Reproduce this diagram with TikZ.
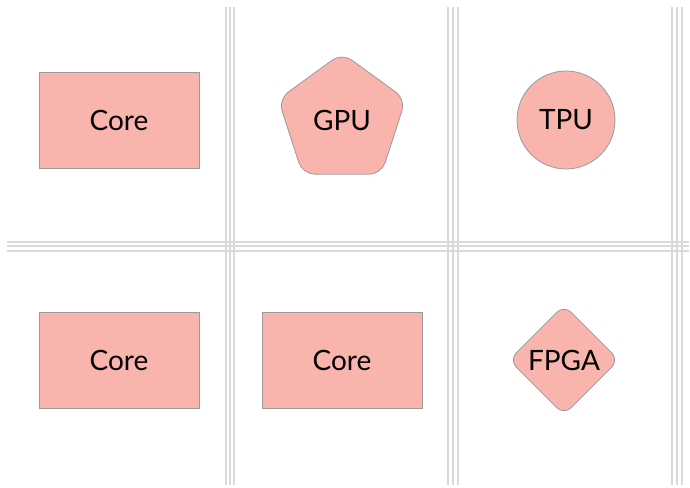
\documentclass[tikz,border=0pt]{standalone}
\usepackage{fontspec}
\setmainfont{Lato}
\usetikzlibrary{shapes.geometric}
\definecolor{chipfill}{HTML}{F9B4AE}
\definecolor{chipline}{HTML}{9A9A9A}
\definecolor{gridline}{HTML}{D9D9D9}
\tikzset{
  chip/.style={fill=chipfill, draw=chipline, line width=0.8pt, font=\fontsize{28}{32}\selectfont, inner sep=0pt},
  corebox/.style={chip, rectangle, minimum width=160pt, minimum height=96pt},
  gpubox/.style={chip, regular polygon, regular polygon sides=5, minimum size=134pt, rounded corners=12pt},
  tpubox/.style={chip, circle, minimum size=98pt},
  fpgabox/.style={chip, diamond, minimum width=110pt, minimum height=110pt, rounded corners=10pt},
  sep/.style={draw=gridline, line width=1.1pt}
}
\begin{document}
\begin{tikzpicture}[x=1pt,y=-1pt]
\useasboundingbox (0,0) rectangle (690,487);
% separators
\foreach \x in {226,230,234,448,453,458,672,677,682}{
  \coordinate (vt\x) at (\x,7);
  \coordinate (vb\x) at (\x,485);
  \draw[sep] (vt\x) -- (vb\x);
}
\foreach \y in {242,246,251}{
  \coordinate (hl\y) at (7,\y);
  \coordinate (hr\y) at (689,\y);
  \draw[sep] (hl\y) -- (hr\y);
}
% shapes
\node[corebox] (core1) at (119,120) {Core};
\node[gpubox] (gpu) at (342,120) {GPU};
\node[tpubox] (tpu) at (566,120) {TPU};
\node[corebox] (core2) at (119,360) {Core};
\node[corebox] (core3) at (342,360) {Core};
\node[fpgabox] (fpga) at (564,360) {FPGA};
\end{tikzpicture}
\end{document}
